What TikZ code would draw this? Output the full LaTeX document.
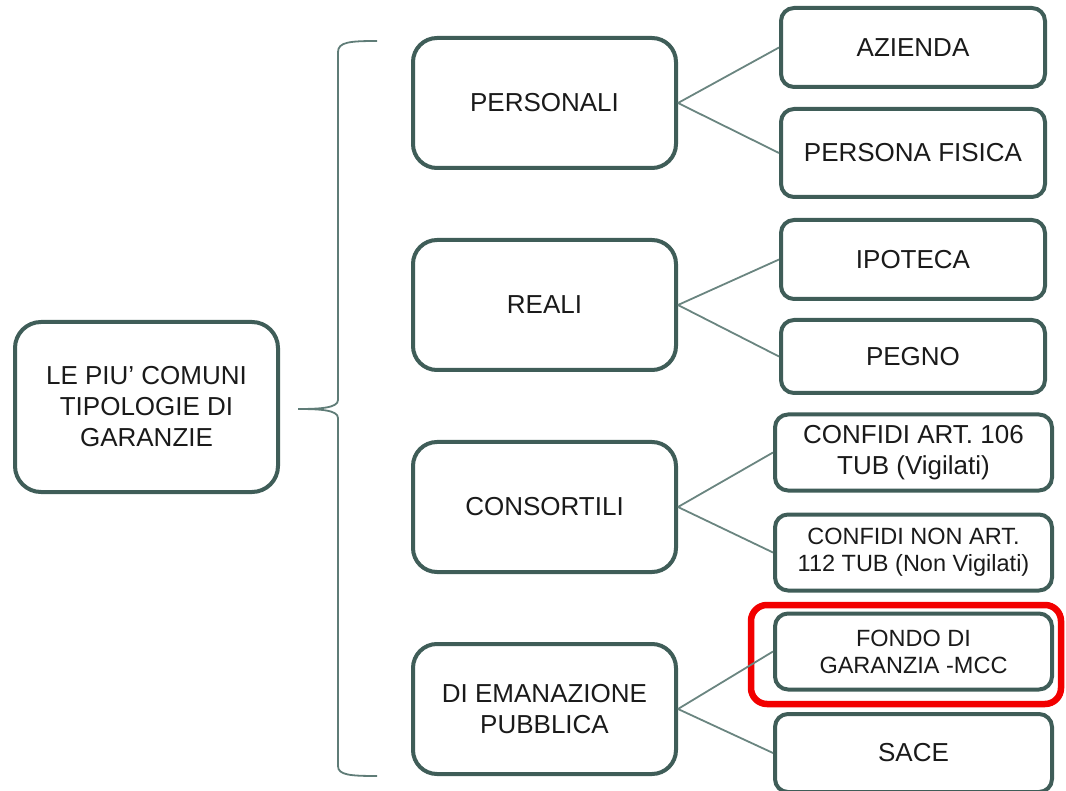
\documentclass[tikz,border=0pt]{standalone}
\usepackage{fontspec}
\setmainfont{Liberation Sans}
\definecolor{boxline}{HTML}{3F5D58}
\definecolor{linkc}{HTML}{6A8580}
\definecolor{bracec}{HTML}{5F7C77}
\definecolor{txt}{HTML}{1A1A1A}
\definecolor{hl}{HTML}{F20000}
\begin{document}
\begin{tikzpicture}[x=1pt,y=-1pt,
  box/.style={draw=boxline, line width=4pt, fill=white, align=center,
    inner sep=0pt, text=txt, font=\fontsize{26}{31}\selectfont},
  bigbox/.style={box, rounded corners=24pt, minimum width=263pt, minimum height=130pt},
  leaf/.style={box, rounded corners=13pt, minimum width=264pt},
  wideleaf/.style={box, rounded corners=13pt, minimum width=277pt, minimum height=76pt},
  small/.style={font=\fontsize{23.5}{27}\selectfont},
  link/.style={draw=linkc, line width=1.8pt},
  brace/.style={draw=bracec, line width=1.8pt},
  hlbox/.style={draw=hl, line width=6.5pt, rounded corners=16pt, inner sep=0pt,
    minimum width=310pt, minimum height=99pt}
]
\useasboundingbox (0,0) rectangle (1066,791);

% root
\node[bigbox, rounded corners=26pt, minimum height=170pt] (root) at (146.5,407)
  {LE PIU' COMUNI\\TIPOLOGIE DI\\GARANZIE};

% brace grouping the categories
\coordinate (btop) at (377,41);
\coordinate (bbot) at (377,776);
\coordinate (btip) at (298,409);
\draw[brace] (btop) .. controls (350,41) and (338,42) .. (338,52)
  -- (338,400) .. controls (338,408) and (320,409) .. (btip)
  .. controls (320,409) and (338,410) .. (338,418)
  -- (338,766) .. controls (338,775) and (350,776) .. (bbot);

% categories
\node[bigbox] (pers) at (544.5,103) {PERSONALI};
\node[bigbox] (real) at (544.5,305) {REALI};
\node[bigbox] (cons) at (544.5,507) {CONSORTILI};
\node[bigbox] (pubb) at (544.5,709) {DI EMANAZIONE\\PUBBLICA};

% leaves
\node[leaf, minimum height=79pt] (azi) at (913,47.5) {AZIENDA};
\node[leaf, minimum height=88pt] (pf) at (913,153) {PERSONA FISICA};
\node[leaf, minimum height=79pt] (ipo) at (913,259.5) {IPOTECA};
\node[leaf, minimum height=73pt] (peg) at (913,356.5) {PEGNO};
\node[wideleaf] (c106) at (913.5,452.5) {CONFIDI ART. 106\\TUB (Vigilati)};
\node[wideleaf, small] (c112) at (913.5,552.5) {CONFIDI NON ART.\\112 TUB (Non Vigilati)};
\node[wideleaf, small] (mcc) at (913.5,651.5) {FONDO DI\\GARANZIA -MCC};
\node[wideleaf, minimum height=78pt] (sace) at (913.5,753) {SACE};

% highlight frame
\node[hlbox] (focus) at (906,654.5) {};

% connectors
\draw[link] (pers.east) -- (azi.west);
\draw[link] (pers.east) -- (pf.west);
\draw[link] (real.east) -- (ipo.west);
\draw[link] (real.east) -- (peg.west);
\draw[link] (cons.east) -- (c106.west);
\draw[link] (cons.east) -- (c112.west);
\draw[link] (pubb.east) -- (mcc.west);
\draw[link] (pubb.east) -- (sace.west);
\end{tikzpicture}
\end{document}
